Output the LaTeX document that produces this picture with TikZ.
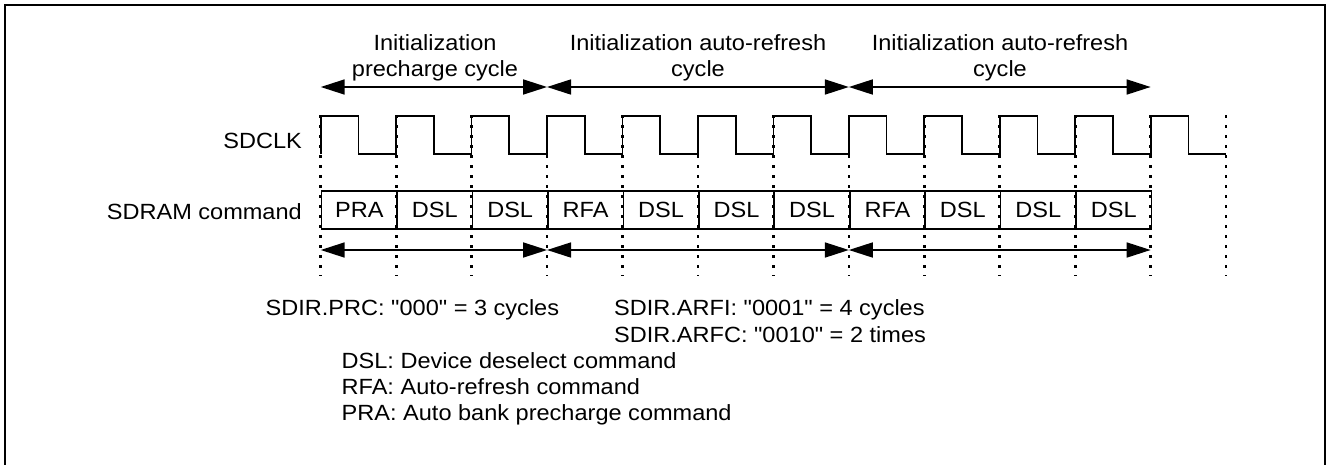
\documentclass[tikz,border=0pt]{standalone}
\usepackage{fontspec}
\setmainfont{Liberation Sans}[Ligatures=TeXOff, FakeStretch=1.07]
\usetikzlibrary{arrows.meta}
\begin{document}
\begin{tikzpicture}[x=1pt,y=-1pt,
  lbl/.style={font=\fontsize{22}{24}\selectfont, inner sep=0pt},
  frame/.style={line width=2.2pt},
  sig/.style={line width=1.7pt, line join=miter},
  guide/.style={line width=2.7pt, dash pattern=on 2.7pt off 7.3pt},
  span/.style={line width=1.7pt, {Triangle[length=24pt,width=15pt]}-{Triangle[length=24pt,width=15pt]}},
  cell/.style={draw, line width=1.7pt, minimum width=75.45pt, minimum height=38pt, inner sep=0pt, anchor=north west, font=\fontsize{22}{24}\selectfont}
]
\useasboundingbox (0,0) rectangle (1328,464);
% frame
\draw[frame] (5,470) -- (5,5) -- (1325,5) -- (1325,470);
% grid coordinates
\foreach \k in {0,...,12} {
  \pgfmathsetmacro\xx{320.7+75.45*\k}
  \coordinate (g\k top) at (\xx,115);
  \coordinate (g\k bot) at (\xx,276);
  \coordinate (up\k) at (\xx,87);
  \coordinate (dn\k) at (\xx,250);
  \coordinate (ck\k) at (\xx,154);
}
% titles
\node[lbl, anchor=base] (t1a) at (435,50) {Initialization};
\node[lbl, anchor=base] (t1b) at (435,76.5) {precharge cycle};
\node[lbl, anchor=base] (t2a) at (698,50) {Initialization auto-refresh};
\node[lbl, anchor=base] (t2b) at (698,76.5) {cycle};
\node[lbl, anchor=base] (t3a) at (1000,50) {Initialization auto-refresh};
\node[lbl, anchor=base] (t3b) at (1000,76.5) {cycle};
% top spans
\draw[span] (up0) -- (up3);
\draw[span] (up3) -- (up7);
\draw[span] (up7) -- (up11);
% signal labels
\node[lbl, anchor=base east] (clk) at (302,148) {SDCLK};
\node[lbl, anchor=base east] (cmd) at (302,219.5) {SDRAM command};
% clock
\draw[sig] (ck0) \foreach \k in {0,...,11} { -- ++(0,-38) -- ++(37.725,0) -- ++(0,38) -- ++(37.725,0) };
% command cells
\foreach \c [count=\i from 0] in {PRA,DSL,DSL,RFA,DSL,DSL,DSL,RFA,DSL,DSL,DSL} {
  \pgfmathsetmacro\xx{320.7+75.45*\i}
  \node[cell] (c\i) at (\xx,190) {\c};
}
% dotted guides
\foreach \k in {0,...,12} \draw[guide] (g\k top) -- (g\k bot);
% bottom spans
\draw[span] (dn0) -- (dn3);
\draw[span] (dn3) -- (dn7);
\draw[span] (dn7) -- (dn11);
% notes
\node[lbl, anchor=base west] (n1) at (265.5,315) {SDIR.PRC: "000" = 3 cycles};
\node[lbl, anchor=base west] (n2) at (614,315) {SDIR.ARFI: "0001" = 4 cycles};
\node[lbl, anchor=base west] (n3) at (614,342) {SDIR.ARFC: "0010" = 2 times};
\node[lbl, anchor=base west] (n4) at (341.5,368.5) {DSL: Device deselect command};
\node[lbl, anchor=base west] (n5) at (341.5,394.5) {RFA: Auto-refresh command};
\node[lbl, anchor=base west] (n6) at (341.5,420.5) {PRA: Auto bank precharge command};
\end{tikzpicture}
\end{document}
